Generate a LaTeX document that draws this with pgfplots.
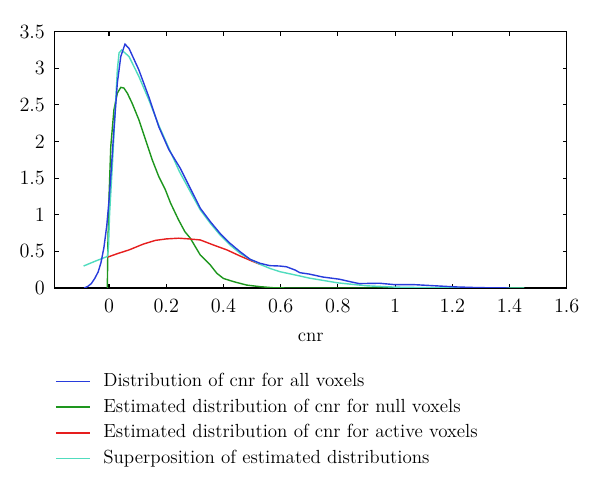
\documentclass[border=0pt]{standalone}
\usepackage{pgfplots}
\pgfplotsset{compat=1.18}
\definecolor{cblue}{RGB}{40,60,220}
\definecolor{cgreen}{RGB}{30,150,30}
\definecolor{cred}{RGB}{230,30,30}
\definecolor{ccyan}{RGB}{80,220,190}
\begin{document}
\fontsize{13.5}{15.5}\selectfont
\begin{tikzpicture}
\path[use as bounding box] (0,0) rectangle (150mm,122.5mm);
\begin{axis}[
  at={(13.675mm,50.5mm)}, anchor=south west,
  scale only axis, width=128mm, height=64.08mm,
  xmin=-0.19, xmax=1.6, ymin=0, ymax=3.5,
  xtick={0,0.2,0.4,0.6,0.8,1,1.2,1.4,1.6},
  ytick={0,0.5,1,1.5,2,2.5,3,3.5},
  tick align=inside, major tick length=1mm,
  axis line style={line width=0.8pt},
  every tick/.style={black, line width=0.8pt},
  yticklabel style={xshift=-0.8mm},
  xticklabel style={yshift=-1.2mm},
  xlabel={cnr},
  xlabel style={at={(axis description cs:0.5,-0.194)}, anchor=center},
  legend cell align=left,
  legend style={at={(axis description cs:0,-0.313)}, anchor=north west,
    draw=none, fill=none, inner sep=0pt, column sep=3.2mm, row sep=0pt,
    nodes={inner sep=0pt, text height=12.8pt, text depth=5.5pt}},
  legend image code/.code={\draw[line width=1.1pt,#1] (0mm,0mm) -- (8.5mm,0mm);},
]
\addlegendimage{cblue, line width=1.1pt}
\addlegendentry{Distribution of cnr for all voxels}
\addlegendimage{cgreen, line width=1.1pt}
\addlegendentry{Estimated distribution of cnr for null voxels}
\addlegendimage{cred, line width=1.1pt}
\addlegendentry{Estimated distribution of cnr for active voxels}
\addlegendimage{ccyan, line width=1.1pt}
\addlegendentry{Superposition of estimated distributions}

% null voxels
\addplot[cgreen, line width=1pt, forget plot] coordinates {
(-0.006,0) (-0.004,0.6) (0,1.25) (0.006,1.93) (0.017,2.43) (0.029,2.66)
(0.041,2.74) (0.052,2.73) (0.064,2.66) (0.081,2.52) (0.104,2.30) (0.128,2.02)
(0.151,1.75) (0.174,1.52) (0.197,1.34) (0.215,1.16) (0.243,0.93) (0.265,0.77)
(0.284,0.68) (0.319,0.45) (0.354,0.314) (0.377,0.20) (0.40,0.13) (0.436,0.086)
(0.481,0.04) (0.528,0.018) (0.575,0.003) (0.62,0) (1.45,0)};
% active voxels
\addplot[cred, line width=1pt, forget plot] coordinates {
(-0.006,0.42) (0.03,0.47) (0.07,0.52) (0.12,0.60) (0.162,0.65) (0.2,0.67)
(0.243,0.68) (0.28,0.67) (0.319,0.656) (0.365,0.587) (0.412,0.52) (0.458,0.437)
(0.504,0.36) (0.53,0.32)};
% superposition
\addplot[ccyan, line width=1pt, forget plot] coordinates {
(-0.089,0.30) (-0.046,0.37) (-0.006,0.43) (-0.002,0.56) (0.002,1.02) (0.012,1.70)
(0.021,2.39) (0.029,2.98) (0.035,3.21) (0.044,3.25) (0.07,3.16) (0.104,2.89)
(0.139,2.57) (0.174,2.22) (0.209,1.91) (0.246,1.59) (0.284,1.316) (0.319,1.066)
(0.354,0.884) (0.388,0.724) (0.423,0.587) (0.458,0.474) (0.493,0.392) (0.528,0.323)
(0.562,0.268) (0.597,0.223) (0.667,0.164) (0.7,0.135) (0.8,0.07) (0.9,0.03)
(1.0,0.012) (1.1,0.005) (1.2,0.002) (1.3,0.001) (1.452,0)};
% all voxels
\addplot[cblue, line width=1pt, forget plot] coordinates {
(-0.087,0) (-0.075,0.02) (-0.062,0.06) (-0.05,0.13) (-0.038,0.22) (-0.028,0.35)
(-0.018,0.55) (-0.008,0.85) (0,1.2) (0.006,1.52) (0.017,2.16) (0.029,2.80)
(0.041,3.16) (0.0557,3.33) (0.07,3.27) (0.104,2.98) (0.139,2.61) (0.174,2.20)
(0.209,1.89) (0.249,1.635) (0.284,1.362) (0.319,1.089) (0.354,0.906) (0.388,0.747)
(0.423,0.61) (0.458,0.496) (0.493,0.392) (0.528,0.337) (0.562,0.305) (0.597,0.30)
(0.62,0.29) (0.65,0.246) (0.667,0.209) (0.70,0.19) (0.747,0.15) (0.805,0.12)
(0.85,0.08) (0.875,0.06) (0.945,0.065) (1.0,0.045) (1.07,0.045) (1.14,0.03)
(1.21,0.015) (1.29,0.005) (1.4,0)};
\end{axis}
\end{tikzpicture}
\end{document}
